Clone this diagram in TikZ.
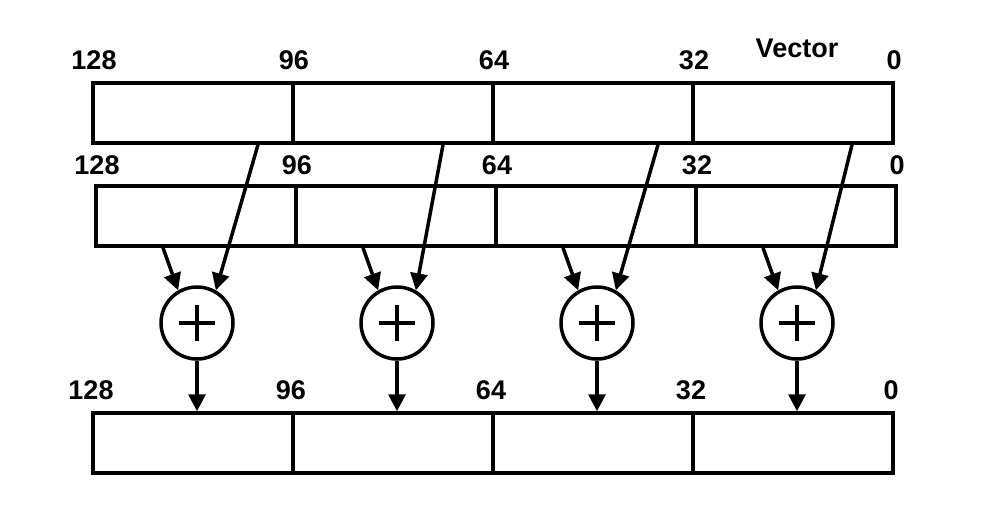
\documentclass[tikz,border=0pt]{standalone}
\usepackage{fontspec}
\setmainfont{Liberation Sans}
\usetikzlibrary{arrows.meta, positioning}
\tikzset{%
  >={Triangle[width=17pt, length=17pt]}, % big solid heads
  % one 32 bit lane of a register
  lane/.style={rectangle, draw, line width=3.5pt, minimum width=200pt, minimum height=60pt, inner sep=0pt},
  % circle with a plus
  adder/.style={circle, draw, line width=3.5pt, minimum size=72pt, inner sep=0pt},
  bitnum/.style={font=\fontsize{27}{31}\bfseries\selectfont, inner sep=0pt},
  flow/.style={->, line width=3.5pt}
}
\begin{document}
\begin{tikzpicture}[x=1pt, y=-1pt]
  \useasboundingbox (0,0) rectangle (982,530);
  % the three registers
  \foreach \i in {1,...,4} {
    \node[lane] (a\i) at (-7+200*\i, 113) {};
    \node[lane] (b\i) at (-4+200*\i, 216) {};
    \node[lane] (c\i) at (-7+200*\i, 443) {};
    \node[adder] (s\i) at (-3+200*\i, 323) {};
    \draw[line width=3.5pt] ([xshift=-18pt]s\i.center) -- ([xshift=18pt]s\i.center)
      ([yshift=-18pt]s\i.center) -- ([yshift=18pt]s\i.center);
  }
  % bit positions
  \foreach \n [count=\k from 0] in {128,96,64,32,0} {
    \node[bitnum] (la\k) at (94+200*\k, 60) {\n};
    \node[bitnum] (lb\k) at (97+200*\k, 165) {\n};
    \node[bitnum] (lc\k) at (91+200*\k, 390) {\n};
  }
  \node[bitnum] (vec) at (797, 48) {Vector};
  % lanes into the adders and out again
  \foreach \i/\dx in {1/65, 2/50, 3/65, 4/59} {
    \draw[flow] ([xshift=\dx pt]a\i.south) -- (s\i.60);
    \draw[flow] ([xshift=-33pt]b\i.south) -- (s\i.120);
    \draw[flow] (s\i.south) -- (s\i.south |- c\i.north);
  }
\end{tikzpicture}
\end{document}
